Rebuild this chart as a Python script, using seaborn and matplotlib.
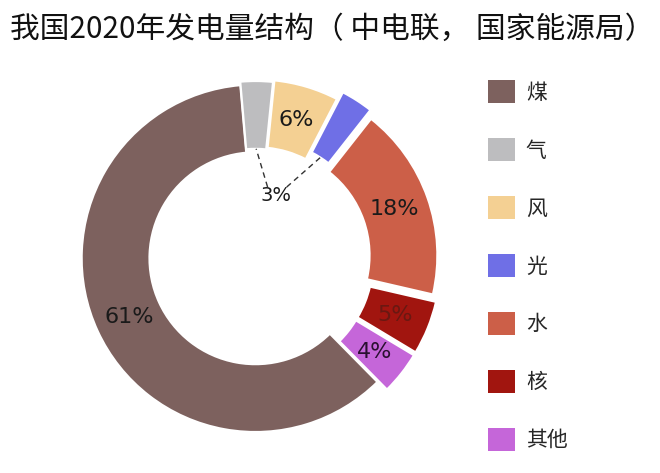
import numpy as np
import matplotlib
matplotlib.use("Agg")
import matplotlib.pyplot as plt
import seaborn as sns

sns.set_theme(style="white")
plt.rcParams['font.family'] = ['Noto Sans CJK SC', 'DejaVu Sans']

title = "我国2020年发电量结构（ 中电联， 国家能源局）"
categories = ["煤", "气", "风", "光", "水", "核", "其他"]
values = [61, 3, 6, 3, 18, 5, 4]
colors = ["#7d615e", "#bdbdbf", "#f4d093", "#6f6fe6", "#cc5f48", "#a1150f", "#c566d9"]
explode = [0.0, 0.02, 0.03, 0.08, 0.05, 0.07, 0.07]
pct_colors = ["#1a1a1a", "#1a1a1a", "#1a1a1a", "#1a1a1a", "#1a1a1a", "#6a1812", "#2a1030"]

fig = plt.figure(figsize=(6.6, 4.73), dpi=100)
ax = fig.add_axes([0.097, 0.05, 0.58, 0.808])

def fmt(p):
    v = int(round(p))
    return "" if v == 3 else f"{v}%"

wedges, texts, autotexts = ax.pie(
    values, colors=colors, explode=explode, startangle=-45.4, counterclock=False,
    wedgeprops=dict(width=0.39, edgecolor="white", linewidth=1.5),
    autopct=fmt, pctdistance=0.8,
    textprops=dict(fontsize=16, family=['DejaVu Sans']))
for t, c in zip(autotexts, pct_colors):
    t.set_color(c)

ax.set_xlim(-1.1, 1.1)
ax.set_ylim(-1.1, 1.1)
ax.set_aspect("equal")
ax.axis("off")

# shared 3% label for 气 and 光
tx, ty = 0.12, 0.36
ax.text(tx, ty, "3%", ha="center", va="center", fontsize=14, family=['DejaVu Sans'], color="#1a1a1a")
for idx in (1, 3):
    w = wedges[idx]
    th = np.deg2rad((w.theta1 + w.theta2) / 2)
    cx, cy = w.center
    r = 0.61
    px, py = cx + r * np.cos(th), cy + r * np.sin(th)
    sx = tx - 0.05 if idx == 1 else tx + 0.06
    ax.plot([sx, px], [ty + 0.05, py], ls=(0, (4, 3)), color="#333333", lw=1)

fig.text(0.015, 0.938, title, fontsize=21.4, color="#111111", va="center", ha="left")

leg = fig.legend(wedges, categories, loc="upper left", bbox_to_anchor=(0.74, 0.83),
                 frameon=False, fontsize=15, handlelength=1.3, handleheight=1.3,
                 labelspacing=1.66, handletextpad=0.5, borderpad=0, borderaxespad=0)
for h in leg.legend_handles:
    h.set_edgecolor("none")

fig.savefig("out.png", dpi=100)
